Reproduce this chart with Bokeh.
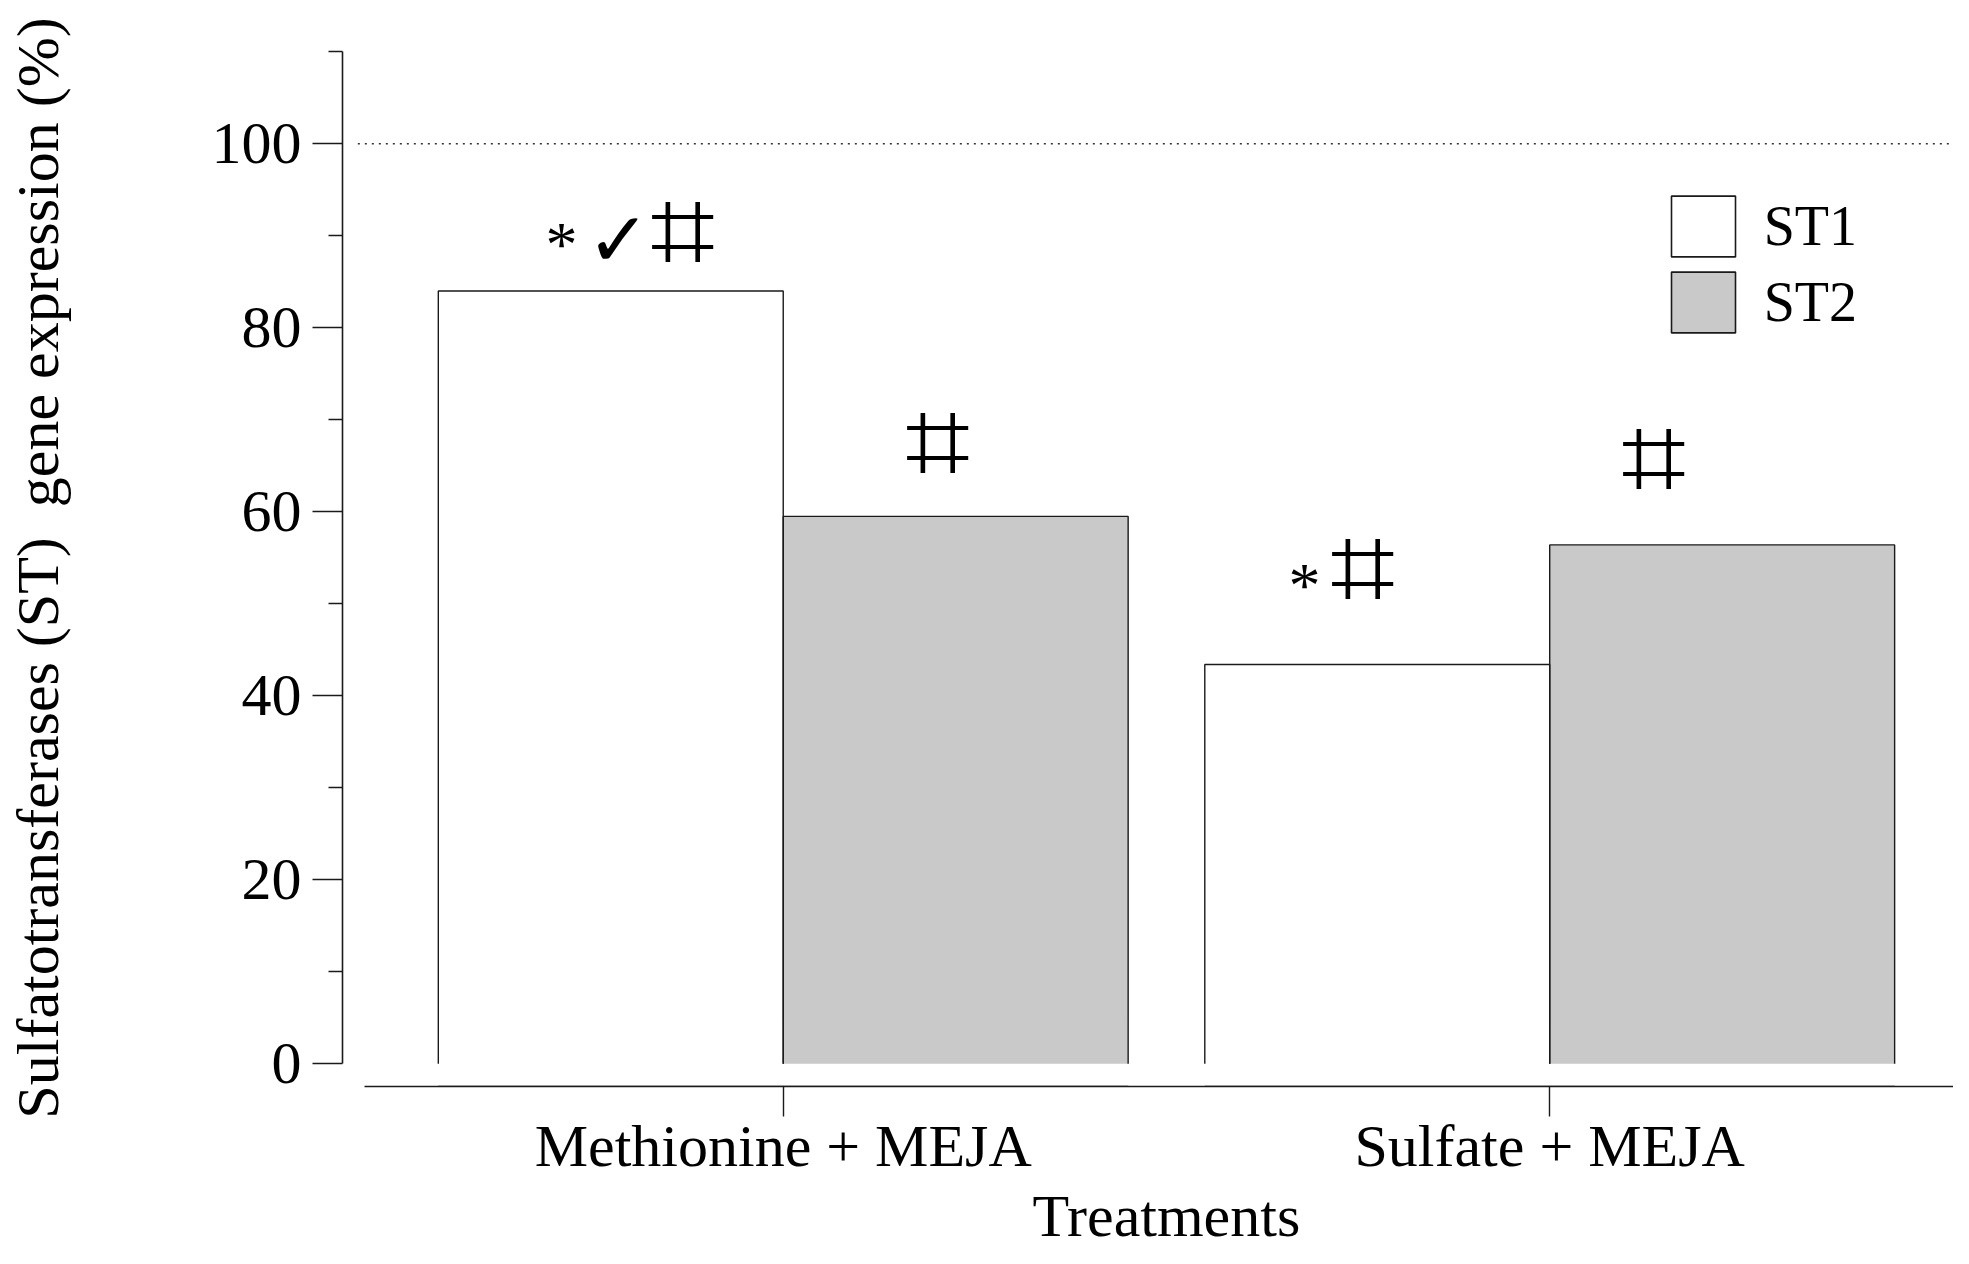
from bokeh.plotting import figure
from bokeh.models import Range1d, FixedTicker, Legend, LegendItem, Title
from bokeh.embed import file_html
from bokeh.resources import INLINE
from bokeh.core.properties import value

# ---- data ----
treatments = ["Methionine + MEJA", "Sulfate + MEJA"]
series = ["ST1", "ST2"]
st1_values = [84.0, 43.4]
st2_values = [59.5, 56.4]
y_ticks = [0, 20, 40, 60, 80, 100]
y_minor_ticks = [10, 30, 50, 70, 90, 110]
reference_level = 100
x_title = "Treatments"
y_title = "Sulfatotransferases (ST)\u00a0 gene expression (%)"
# significance marks (positions, data units)
hash_x = [0.8685, 1.201, 1.7564, 2.136]
hash_y = [90.4, 67.4, 53.7, 65.7]
star_x = [0.7108, 1.680]
star_y = [89.7, 52.6]
check_x = [0.7851]
check_y = [89.6]

# ---- layout ----
BAR_W = 0.45
FONT = "Liberation Serif"
X0, X1 = 0.425, 2.5268
positions = [i + 1 for i in range(len(treatments))]
x_st1 = [c - BAR_W / 2 for c in positions]
x_st2 = [c + BAR_W / 2 for c in positions]

p = figure(width=1953, height=1248, output_backend="svg", toolbar_location=None,
           x_range=Range1d(X0, X1), y_range=Range1d(-2.47, 110.25),
           min_border_left=342, min_border_right=0, min_border_top=49,
           min_border_bottom=162)
p.outline_line_color = None
p.xgrid.visible = False
p.ygrid.visible = False
p.background_fill_color = "white"
p.extra_y_ranges = {"legend_proxy": Range1d(1000, 2000)}

p.vbar(x=x_st1, top=st1_values, bottom=0, width=BAR_W, fill_color="white", line_color=None)
p.vbar(x=x_st2, top=st2_values, bottom=0, width=BAR_W, fill_color="#c9c9c9", line_color=None)

xs, ys = [], []
for xc, t in list(zip(x_st1, st1_values)) + list(zip(x_st2, st2_values)):
    xs.append([xc - BAR_W / 2, xc - BAR_W / 2, xc + BAR_W / 2, xc + BAR_W / 2])
    ys.append([0, t, t, 0])
p.multi_line(xs, ys, line_color="#1a1a1a", line_width=1.4)

# reference line at 100 %
p.segment(x0=[0.445], y0=[reference_level], x1=[X1], y1=[reference_level],
          line_color="#333333", line_width=1.6, line_dash="2 5")

# significance marks
p.text(x=hash_x, y=hash_y, text=["\u2317"] * len(hash_x), text_align="center",
       text_baseline="middle", y_offset=-3, text_font=value("DejaVu Sans"),
       text_font_size="116px", text_color="black")
p.text(x=star_x, y=star_y, text=["*"] * len(star_x), text_align="center",
       text_baseline="middle", y_offset=6, text_font=value(FONT), text_font_size="64px",
       text_color="black")
p.text(x=check_x, y=check_y, text=["\u2713"] * len(check_x), text_align="center",
       text_baseline="middle", text_font=value("DejaVu Sans"), text_font_size="76px",
       text_color="black")

# legend (proxy renderers drawn outside the visible range)
lg1 = p.vbar(x=x_st1, top=st1_values, width=BAR_W, y_range_name="legend_proxy",
             fill_color="white", line_color="#1a1a1a", line_width=1.6)
lg2 = p.vbar(x=x_st2, top=st2_values, width=BAR_W, y_range_name="legend_proxy",
             fill_color="#c9c9c9", line_color="#1a1a1a", line_width=1.6)
legend = Legend(items=[LegendItem(label=series[0], renderers=[lg1]),
                       LegendItem(label=series[1], renderers=[lg2])],
                location=(1320.7, 746.3), glyph_width=80, glyph_height=76,
                label_standoff=21, spacing=0, padding=0, margin=0,
                border_line_color=None, background_fill_alpha=0,
                label_text_font=FONT, label_text_font_size="56px", label_text_color="black")
p.add_layout(legend)

# x axis title (left-aligned with an offset so that it sits where the reference has it)
p.add_layout(Title(text=x_title, align="left", offset=690, standoff=-2,
                   text_font=FONT, text_font_size="60px", text_font_style="normal",
                   text_color="black"), "below")

# axes
xa = p.xaxis[0]
xa.ticker = FixedTicker(ticks=positions, minor_ticks=[])
xa.major_label_overrides = {pos: name for pos, name in zip(positions, treatments)}
xa.bounds = (0.454, X1)
xa.major_label_text_font = FONT
xa.major_label_text_font_size = "60px"
xa.major_label_text_color = "black"
xa.major_label_standoff = -4
xa.major_tick_out = 30
xa.major_tick_in = 0
xa.minor_tick_out = 0
xa.axis_line_width = 1.6
xa.major_tick_line_width = 1.4
xa.axis_line_color = "#1a1a1a"
xa.major_tick_line_color = "#1a1a1a"

ya = p.yaxis[0]
ya.ticker = FixedTicker(ticks=y_ticks, minor_ticks=y_minor_ticks)
ya.bounds = (0, 110)
ya.axis_label = y_title
ya.axis_label_text_font = FONT
ya.axis_label_text_font_size = "60px"
ya.axis_label_text_font_style = "normal"
ya.axis_label_text_color = "black"
ya.axis_label_standoff = 138
ya.major_label_text_font = FONT
ya.major_label_text_font_size = "60px"
ya.major_label_text_color = "black"
ya.major_label_standoff = 11
ya.major_tick_out = 30
ya.major_tick_in = 0
ya.minor_tick_out = 14
ya.minor_tick_in = 0
ya.axis_line_width = 1.6
ya.major_tick_line_width = 1.4
ya.minor_tick_line_width = 1.4
ya.axis_line_color = "#1a1a1a"
ya.major_tick_line_color = "#1a1a1a"
ya.minor_tick_line_color = "#1a1a1a"

open("out.html", "w").write(file_html(p, INLINE))
